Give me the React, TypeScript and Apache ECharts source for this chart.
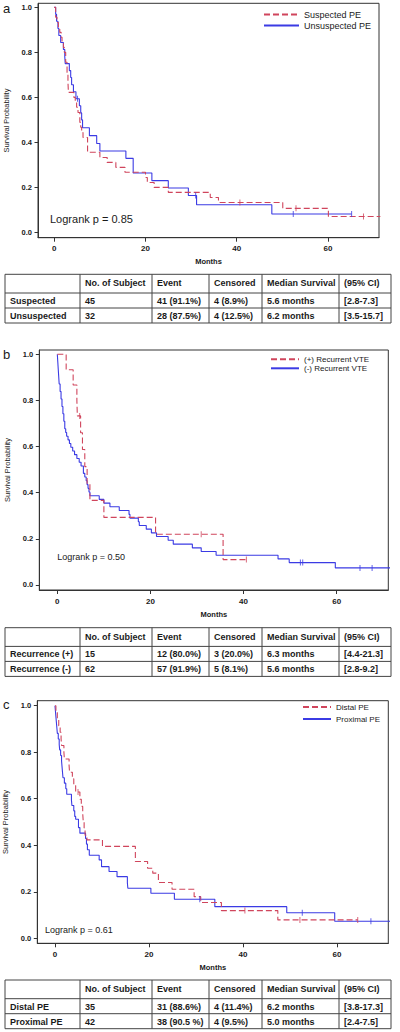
import React, { useEffect, useRef } from 'react';
import * as echarts from 'echarts';

// ---------------- data ----------------
const xTickValues = [0, 20, 40, 60];
const yTickValues = [0, 0.2, 0.4, 0.6, 0.8, 1.0];

// Panel a
const suspectedSteps = [
  [0, 1], [0.3, 0.956], [0.6, 0.933], [0.9, 0.911], [1.2, 0.889], [1.5, 0.867], [1.7, 0.844],
  [2.0, 0.822], [2.2, 0.8], [2.5, 0.756], [2.8, 0.711], [3.0, 0.667], [3.1, 0.622], [4.3, 0.6],
  [4.6, 0.578], [4.9, 0.556], [5.2, 0.533], [5.6, 0.489], [5.8, 0.467], [6.0, 0.444], [6.3, 0.422],
  [7.3, 0.356], [10.0, 0.333], [11.6, 0.311], [13.5, 0.289], [15.5, 0.267], [20.0, 0.244],
  [20.4, 0.222], [21.9, 0.2], [25.0, 0.178], [34.2, 0.155], [36.0, 0.133], [50.1, 0.107],
  [60.1, 0.071], [71.5, 0.071],
];
const suspectedCensored = [[40.7, 0.133], [53.0, 0.107], [67.8, 0.071]];
const unsuspectedSteps = [
  [0, 1], [0.3, 0.969], [0.5, 0.938], [0.8, 0.906], [1.0, 0.875], [1.4, 0.844], [2.0, 0.813],
  [2.3, 0.781], [2.4, 0.75], [3.3, 0.719], [3.6, 0.688], [3.8, 0.656], [4.2, 0.625], [4.75, 0.594],
  [5.5, 0.563], [5.8, 0.531], [6.0, 0.5], [6.2, 0.465], [7.7, 0.43], [9.3, 0.395], [10.0, 0.362],
  [15.7, 0.329], [17.3, 0.264], [21.4, 0.23], [25.0, 0.197], [29.4, 0.164], [31.2, 0.123],
  [47.7, 0.082], [65.2, 0.082],
];
const unsuspectedCensored = [[5.1, 0.594], [31.0, 0.164], [52.4, 0.082], [65.2, 0.082]];

// Panel b
const recPlusSteps = [
  [0, 1], [1.9, 0.933], [3.4, 0.867], [4.2, 0.8], [4.3, 0.733], [5.0, 0.66], [5.4, 0.587],
  [5.9, 0.513], [6.4, 0.44], [7.0, 0.367], [10.0, 0.293], [21.1, 0.22], [35.6, 0.11], [40.6, 0.11],
];
const recPlusCensored = [[4.8, 0.733], [30.9, 0.22], [40.6, 0.11]];
const recMinusSteps = [
  [0, 1], [0.1, 0.968], [0.2, 0.935], [0.3, 0.903], [0.4, 0.871], [0.6, 0.839], [0.8, 0.806],
  [1.0, 0.774], [1.2, 0.742], [1.4, 0.71], [1.6, 0.677], [1.8, 0.661], [2.0, 0.645], [2.3, 0.629],
  [2.6, 0.613], [2.9, 0.597], [3.3, 0.581], [3.7, 0.565], [4.2, 0.548], [4.7, 0.532], [5.1, 0.516],
  [5.6, 0.484], [5.9, 0.468], [6.2, 0.452], [6.4, 0.435], [6.6, 0.419], [6.8, 0.403], [7.0, 0.387],
  [9.0, 0.371], [10.0, 0.355], [11.3, 0.339], [13.3, 0.323], [15.4, 0.306], [15.6, 0.29],
  [17.4, 0.274], [17.6, 0.258], [19.1, 0.242], [20.2, 0.226], [21.3, 0.21], [23.8, 0.194],
  [24.9, 0.177], [29.0, 0.161], [30.9, 0.145], [34.1, 0.129], [47.4, 0.113], [49.8, 0.097],
  [59.7, 0.074], [71.5, 0.074],
];
const recMinusCensored = [[52.2, 0.097], [52.7, 0.097], [65.0, 0.074], [67.6, 0.074]];

// Panel c
const distalSteps = [
  [0, 1], [0.2, 0.971], [0.5, 0.943], [0.8, 0.914], [1.1, 0.886], [1.3, 0.857], [1.4, 0.829],
  [1.9, 0.8], [2.0, 0.771], [3.0, 0.743], [3.1, 0.714], [3.7, 0.686], [4.0, 0.657], [4.4, 0.629],
  [5.3, 0.598], [5.6, 0.567], [5.9, 0.536], [6.0, 0.505], [6.2, 0.474], [6.4, 0.443], [6.8, 0.423],
  [10.1, 0.395], [17.1, 0.33], [19.7, 0.301], [20.8, 0.28], [22.0, 0.24], [24.9, 0.211],
  [29.6, 0.179], [31.0, 0.154], [35.4, 0.119], [47.4, 0.079], [64.4, 0.079],
];
const distalCensored = [[4.9, 0.629], [40.4, 0.119], [52.1, 0.079], [64.4, 0.079]];
const proximalSteps = [
  [0, 1], [0.1, 0.976], [0.2, 0.952], [0.3, 0.929], [0.4, 0.905], [0.5, 0.881], [0.7, 0.857],
  [0.9, 0.833], [1.0, 0.81], [1.2, 0.786], [1.4, 0.762], [1.5, 0.738], [1.6, 0.714], [1.7, 0.69],
  [2.0, 0.667], [2.3, 0.643], [2.5, 0.619], [3.5, 0.595], [3.6, 0.571], [4.0, 0.548], [4.2, 0.524],
  [4.4, 0.512], [5.0, 0.476], [5.3, 0.452], [6.5, 0.429], [6.7, 0.405], [6.9, 0.381], [7.3, 0.357],
  [9.4, 0.337], [9.9, 0.308], [11.5, 0.287], [13.2, 0.265], [15.4, 0.238], [15.5, 0.215],
  [20.4, 0.194], [25.4, 0.168], [34.0, 0.136], [49.3, 0.11], [59.5, 0.073], [71.5, 0.073],
];
const proximalCensored = [[30.8, 0.168], [52.6, 0.11], [67.2, 0.073]];

// Tables
const tableHeader = ['', 'No. of Subject', 'Event', 'Censored', 'Median Survival', '(95% CI)'];
const tableARows = [
  ['Suspected', '45', '41 (91.1%)', '4 (8.9%)', '5.6 months', '[2.8-7.3]'],
  ['Unsuspected', '32', '28 (87.5%)', '4 (12.5%)', '6.2 months', '[3.5-15.7]'],
];
const tableBRows = [
  ['Recurrence (+)', '15', '12 (80.0%)', '3 (20.0%)', '6.3 months', '[4.4-21.3]'],
  ['Recurrence (-)', '62', '57 (91.9%)', '5 (8.1%)', '5.6 months', '[2.8-9.2]'],
];
const tableCRows = [
  ['Distal PE', '35', '31 (88.6%)', '4 (11.4%)', '6.2 months', '[3.8-17.3]'],
  ['Proximal PE', '42', '38 (90.5 %)', '4 (9.5%)', '5.0 months', '[2.4-7.5]'],
];

const panelLetters = ['a', 'b', 'c'];
const groupNames = [
  ['Suspected PE', 'Unsuspected PE'],
  ['(+) Recurrent VTE', '(-) Recurrent VTE'],
  ['Distal PE', 'Proximal PE'],
];
const groupSteps = [
  [suspectedSteps, unsuspectedSteps],
  [recPlusSteps, recMinusSteps],
  [distalSteps, proximalSteps],
];
const groupCensored = [
  [suspectedCensored, unsuspectedCensored],
  [recPlusCensored, recMinusCensored],
  [distalCensored, proximalCensored],
];
const logrankTexts = ['Logrank p = 0.85', 'Logrank p = 0.50', 'Logrank p = 0.61'];
const tableRows = [tableARows, tableBRows, tableCRows];

// ---------------- layout & style ----------------
const RED = '#d0455c';
const BLUE = '#3b3be4';
const AXIS = '#333';
const INK = '#1a1a1a';
const FONT = '"Liberation Sans", Arial, Helvetica, sans-serif';
const COL_X = [5, 80, 152, 209, 262, 339, 391];
const HEADER_H = 18.7;
const ROW_H = 15;

const layouts = [
  {
    left: 38, top: 3.3, width: 341, height: 234.4, xMin: -3.57, xMax: 71.2, yMin: -0.0235, yMax: 1.018,
    legend: { left: 263, top: 10, itemWidth: 35, itemGap: 2, fontSize: 9 },
    logrank: { x: 50, y: 219.3, fontSize: 11 },
    letter: { x: 3, y: 8 }, tableTop: 274.3,
  },
  {
    left: 39.3, top: 350, width: 349, height: 240, xMin: -3.87, xMax: 71.08, yMin: -0.0217, yMax: 1.0186,
    legend: { left: 270, top: 355.3, itemWidth: 28, itemGap: 1, fontSize: 8 },
    logrank: { x: 57.3, y: 557.3, fontSize: 9 },
    letter: { x: 3, y: 354 }, tableTop: 627.7,
  },
  {
    left: 37.3, top: 700.7, width: 351, height: 242.6, xMin: -3.76, xMax: 70.9, yMin: -0.0215, yMax: 1.0215,
    legend: { left: 302, top: 703, itemWidth: 28, itemGap: 4, fontSize: 8 },
    logrank: { x: 45, y: 930, fontSize: 9 },
    letter: { x: 3, y: 704 }, tableTop: 980,
  },
];

function buildOption() {
  const grid: any[] = [];
  const xAxis: any[] = [];
  const yAxis: any[] = [];
  const series: any[] = [];
  const legend: any[] = [];
  const elements: any[] = [];
  const colors = [RED, BLUE];
  const dashes: any[] = [[6, 3], 'solid'];

  layouts.forEach((L, i) => {
    grid.push({
      left: L.left, top: L.top, width: L.width, height: L.height,
      show: true, borderColor: AXIS, borderWidth: 1, containLabel: false, outerBoundsMode: 'none',
    });
    xAxis.push({
      gridIndex: i, type: 'value', min: L.xMin, max: L.xMax,
      name: 'Months', nameLocation: 'middle', nameGap: 20,
      nameTextStyle: { fontSize: 7.5, fontWeight: 'bold', color: INK, fontFamily: FONT },
      axisLine: { show: true, onZero: false, lineStyle: { color: AXIS, width: 1 } },
      axisTick: { show: true, length: 4, customValues: xTickValues, lineStyle: { color: AXIS } },
      axisLabel: {
        show: true, customValues: xTickValues, margin: 7, fontSize: 8, fontWeight: 'bold', color: INK, fontFamily: FONT,
        formatter: (v: number) => String(Math.round(v)),
      },
      splitLine: { show: false },
    });
    yAxis.push({
      gridIndex: i, type: 'value', min: L.yMin, max: L.yMax,
      name: 'Survival Probability', nameLocation: 'middle', nameGap: 26,
      nameTextStyle: { fontSize: 7.5, color: INK, fontFamily: FONT },
      axisLine: { show: true, onZero: false, lineStyle: { color: AXIS, width: 1 } },
      axisTick: { show: true, length: 3.5, customValues: yTickValues, lineStyle: { color: AXIS } },
      axisLabel: {
        show: true, customValues: yTickValues, margin: 6, fontSize: 7.5, fontWeight: 'bold', color: INK, fontFamily: FONT,
        formatter: (v: number) => v.toFixed(1),
      },
      splitLine: { show: false },
    });

    groupNames[i].forEach((name, k) => {
      series.push({
        name, type: 'line', step: 'end', xAxisIndex: i, yAxisIndex: i,
        data: groupSteps[i][k], symbol: 'none', showSymbol: false,
        lineStyle: { color: colors[k], width: 1.1, type: dashes[k] },
        itemStyle: { color: colors[k] }, z: k === 0 ? 3 : 2, silent: true,
      });
      series.push({
        name: name + ' censored', type: 'scatter', xAxisIndex: i, yAxisIndex: i,
        data: groupCensored[i][k], symbol: 'rect', symbolSize: [1, 6],
        itemStyle: { color: colors[k] }, z: 4, silent: true,
      });
    });

    legend.push({
      show: true, orient: 'vertical', left: L.legend.left, top: L.legend.top, padding: 0,
      itemWidth: L.legend.itemWidth, itemHeight: 8, itemGap: L.legend.itemGap,
      data: groupNames[i], selectedMode: false,
      itemStyle: { opacity: 0 },
      textStyle: { fontSize: L.legend.fontSize, color: INK, fontFamily: FONT, padding: [0, 0, 0, 0] },
    });

    elements.push({
      type: 'text', x: L.logrank.x, y: L.logrank.y, silent: true,
      style: { text: logrankTexts[i], fontSize: L.logrank.fontSize, fontFamily: FONT, fill: INK, verticalAlign: 'middle' },
    });
    elements.push({
      type: 'text', x: L.letter.x, y: L.letter.y, silent: true,
      style: { text: panelLetters[i], fontSize: 13, fontFamily: FONT, fill: INK, verticalAlign: 'middle' },
    });

    // table
    const top = L.tableTop;
    const ys = [top, top + HEADER_H, top + HEADER_H + ROW_H, top + HEADER_H + 2 * ROW_H];
    ys.forEach((y) => {
      elements.push({
        type: 'line', silent: true,
        shape: { x1: COL_X[0], y1: y, x2: COL_X[COL_X.length - 1], y2: y },
        style: { stroke: '#444', lineWidth: 1 },
      });
    });
    COL_X.forEach((x) => {
      elements.push({
        type: 'line', silent: true,
        shape: { x1: x, y1: ys[0], x2: x, y2: ys[3] },
        style: { stroke: '#444', lineWidth: 1 },
      });
    });
    const rows = [tableHeader, ...tableRows[i]];
    rows.forEach((row, r) => {
      const cy = r === 0 ? (ys[0] + ys[1]) / 2 - 0.5 : (ys[r] + ys[r + 1]) / 2 + 0.5;
      row.forEach((cell, c) => {
        if (!cell) return;
        elements.push({
          type: 'text', x: COL_X[c] + 5, y: cy, silent: true,
          style: { text: cell, fontSize: 9, fontWeight: 'bold', fontFamily: FONT, fill: INK, verticalAlign: 'middle' },
        });
      });
    });
  });

  return {
    animation: false,
    backgroundColor: '#fff',
    grid, xAxis, yAxis, series, legend,
    graphic: { elements },
  };
}

export default function App() {
  const ref = useRef<HTMLDivElement>(null);
  useEffect(() => {
    if (!ref.current) return;
    const chart = echarts.init(ref.current, null, { renderer: 'svg' });
    chart.setOption(buildOption() as any);
    return () => chart.dispose();
  }, []);
  return (
    <div
      ref={ref}
      style={{ position: 'absolute', left: 0, top: 0, width: 400, height: 1032, background: '#fff' }}
    />
  );
}
